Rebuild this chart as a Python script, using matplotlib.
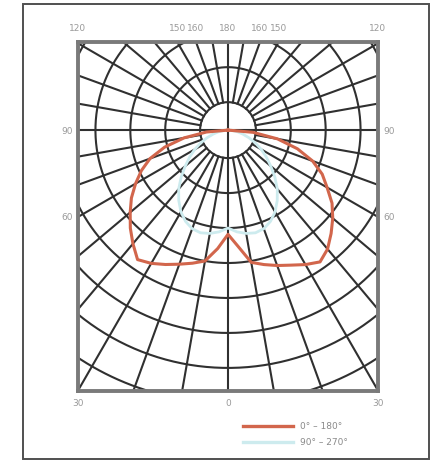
import numpy as np
import matplotlib
matplotlib.use("Agg")
import matplotlib.pyplot as plt
from matplotlib.lines import Line2D
from matplotlib.patches import Rectangle

# polar intensity data (cd), angle from nadir in degrees
ang = np.array([0, 5, 10, 15, 20, 25, 30, 35, 40, 45, 50, 55, 60, 65, 70, 75, 80, 85, 90])
c0_left = np.array([149, 170, 190, 197, 204, 212, 220, 226, 212, 198, 183, 169, 153, 137, 119, 94, 64, 31, 0])
c0_right = np.array([149, 167, 192, 199, 206, 213, 222, 230, 222, 209, 196, 182, 164, 149, 129, 103, 72, 36, 0])
c90_left = np.array([140, 146, 150, 152, 150, 144, 135, 123, 110, 95, 80, 67, 55, 43, 32, 22, 14, 6, 0])
c90_right = np.array([140, 146, 150, 152, 150, 144, 135, 123, 110, 95, 80, 67, 55, 43, 32, 22, 14, 6, 0])

top_labels = ["120", "150", "160", "180", "160", "150", "120"]
top_angles = [-120, -150, -160, 180, 160, 150, 120]
side_labels = ["90", "60"]
side_angles = [90, 60]
bottom_labels = ["30", "0", "30"]
legend_labels = ["0° – 180°", "90° – 270°"]

ring_r = np.arange(40, 700, 50)
spoke_deg = np.arange(0, 360, 10)

xmin, xmax, ymin, ymax = -215, 215, -373, 126

fig = plt.figure(figsize=(4.39, 4.64), dpi=100)
ax = fig.add_axes([78 / 439, 72 / 464, 300 / 439, 349 / 464])
ax.set_xlim(xmin, xmax)
ax.set_ylim(ymin, ymax)
ax.set_xticks([])
ax.set_yticks([])
for s in ax.spines.values():
    s.set_color("#7a7a7a")
    s.set_linewidth(2.8)

gc = "#303030"
t = np.linspace(0, 2 * np.pi, 720)
for r in ring_r:
    ax.plot(r * np.sin(t), r * np.cos(t), color=gc, lw=1.5, zorder=1)
for d in spoke_deg:
    a = np.radians(d)
    r0 = 0 if d % 90 == 0 else ring_r[0]
    ax.plot([r0 * np.sin(a), 800 * np.sin(a)], [-r0 * np.cos(a), -800 * np.cos(a)],
            color=gc, lw=1.5, zorder=1)


def to_xy(angles, vals, side):
    a = np.radians(angles)
    return side * vals * np.sin(a), -vals * np.cos(a)


cyan = "#cdebee"
red = "#d2664c"

# C90 curve
xl, yl = to_xy(ang, c90_left, -1)
xr, yr = to_xy(ang, c90_right, 1)
ax.plot(np.concatenate([xl[::-1], xr]), np.concatenate([yl[::-1], yr]),
        color=cyan, lw=2.0, zorder=3)
# C0 curve
xl, yl = to_xy(ang, c0_left, -1)
xr, yr = to_xy(ang, c0_right, 1)
ax.plot(np.concatenate([xl[::-1], xr]), np.concatenate([yl[::-1], yr]),
        color=red, lw=2.2, zorder=4)

# edge labels
lc = "#9a9a9a"
fs = 6.5
for lab, a in zip(top_labels, top_angles):
    x = np.clip(ymax * np.tan(np.radians(180 - abs(a))) * np.sign(a) * -1, xmin, xmax)
    ax.annotate(lab, (x, ymax), xytext=(0, 7), textcoords="offset points",
                ha="center", va="bottom", fontsize=fs, color=lc, annotation_clip=False)
for lab, a in zip(side_labels, side_angles):
    y = -xmax / np.tan(np.radians(a)) if a != 90 else 0
    ax.annotate(lab, (xmin, y), xytext=(-4, 0), textcoords="offset points",
                ha="right", va="center", fontsize=fs, color=lc, annotation_clip=False)
    ax.annotate(lab, (xmax, y), xytext=(4, 0), textcoords="offset points",
                ha="left", va="center", fontsize=fs, color=lc, annotation_clip=False)
for lab, x in zip(bottom_labels, [xmin, 0, xmax]):
    ax.annotate(lab, (x, ymin), xytext=(0, -5), textcoords="offset points",
                ha="center", va="top", fontsize=fs, color=lc, annotation_clip=False)

# legend
for i, (lab, col) in enumerate(zip(legend_labels, [red, cyan])):
    yy = 1 - (427 + 16 * i) / 464
    fig.add_artist(Line2D([243 / 439, 293 / 439], [yy, yy], color=col, lw=2.4))
    fig.text(300 / 439, yy, lab, ha="left", va="center", fontsize=fs, color="#8a8a8a")

# outer frame
fig.add_artist(Rectangle((23 / 439, 4 / 464), 406 / 439, 455 / 464, transform=fig.transFigure,
                         fill=False, edgecolor="#505050", lw=1.4))

fig.savefig("out.png", dpi=100)
